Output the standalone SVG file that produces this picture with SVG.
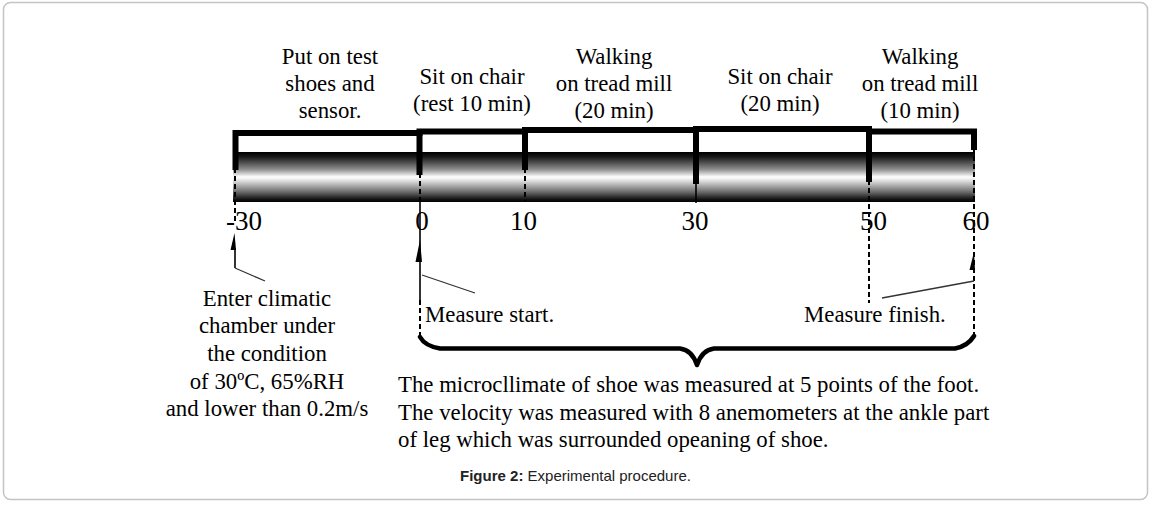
<svg xmlns="http://www.w3.org/2000/svg" width="1150" height="505" viewBox="0 0 1150 505">
<defs>
<linearGradient id="tube" x1="0" y1="0" x2="0" y2="1">
<stop offset="0" stop-color="#000"/>
<stop offset="0.1" stop-color="#1a1a1a"/>
<stop offset="0.35" stop-color="#909090"/>
<stop offset="0.5" stop-color="#ffffff"/>
<stop offset="0.56" stop-color="#e6e6e6"/>
<stop offset="0.8" stop-color="#6a6a6a"/>
<stop offset="0.94" stop-color="#161616"/>
<stop offset="1" stop-color="#000"/>
</linearGradient>
</defs>
<style>
.t{font-family:"Liberation Serif","Times New Roman",serif;font-size:22.8px;fill:#000}
.m{text-anchor:middle}
.ax{font-family:"Liberation Serif","Times New Roman",serif;font-size:27px;fill:#000;text-anchor:middle}
.cap{font-family:"Liberation Sans",Arial,sans-serif;font-size:15px;fill:#222;text-anchor:middle}
.thick{stroke:#000;stroke-width:6;fill:none;stroke-linecap:square}
.dash{stroke:#000;stroke-width:2;fill:none;stroke-dasharray:5 3}
.thin{stroke:#000;stroke-width:1.6;fill:none}
.lead{stroke:#333;stroke-width:1.3;fill:none}
</style>
<rect x="3.5" y="2.5" width="1144" height="497" rx="7" fill="#fff" stroke="#c4c4c4" stroke-width="1.5"/>

<g id="timeline">
<rect x="233" y="152" width="742" height="50" fill="url(#tube)"/>
</g>

<g id="bracket">
<path class="thick" d="M235.5,167 V133 H419.5"/>
<path class="thick" d="M419.5,172 V131.5 H525"/>
<path class="thick" d="M525,167 V130 H696"/>
<path class="thick" d="M696,181 V129 H869"/>
<path class="thick" d="M869,179 V131.5 H974 V147"/>
</g>

<g id="phase-labels">
<text class="t m" x="330" y="64">Put on test</text>
<text class="t m" x="330" y="91">shoes and</text>
<text class="t m" x="330" y="118">sensor.</text>
<text class="t m" x="472" y="84">Sit on chair</text>
<text class="t m" x="472" y="111">(rest 10 min)</text>
<text class="t m" x="614" y="64">Walking</text>
<text class="t m" x="614" y="91">on tread mill</text>
<text class="t m" x="614" y="118">(20 min)</text>
<text class="t m" x="780" y="84">Sit on chair</text>
<text class="t m" x="780" y="111">(20 min)</text>
<text class="t m" x="920" y="64">Walking</text>
<text class="t m" x="920" y="91">on tread mill</text>
<text class="t m" x="920" y="118">(10 min)</text>
</g>

<g id="axis-labels">
<text class="ax" x="244" y="230">-30</text>
<text class="ax" x="422" y="230">0</text>
<text class="ax" x="523.5" y="230">10</text>
<text class="ax" x="695" y="230">30</text>
<text class="ax" x="873.5" y="230">50</text>
<text class="ax" x="976" y="230">60</text>
</g>

<g id="connectors">
<line class="dash" x1="235" y1="168" x2="235" y2="224"/>
<line class="thin" x1="235" y1="248" x2="235" y2="268"/>
<polygon points="234.5,233 230.5,250 236,250" fill="#000"/>
<line class="lead" x1="235" y1="268" x2="265" y2="281"/>

<line class="dash" x1="420" y1="173" x2="420" y2="202"/>
<line class="thin" x1="420" y1="202" x2="420" y2="300"/>
<polygon points="420,240 415.5,262 422,262" fill="#000"/>
<line class="lead" x1="422" y1="275" x2="475" y2="293"/>
<line class="dash" x1="420" y1="300" x2="420" y2="337"/>

<line class="dash" x1="525" y1="168" x2="525" y2="202"/>
<line class="thin" x1="696" y1="181" x2="696" y2="203"/>
<line class="dash" x1="869" y1="180" x2="869" y2="303"/>

<line class="dash" x1="974" y1="148" x2="974" y2="335"/>
<polygon points="974,252 969.5,270 975,270" fill="#000"/>
<line class="lead" x1="974" y1="281" x2="882" y2="298"/>

<path d="M420,337 Q425,346 440,348.5 L680,348.5 Q692,350 697,365 Q702,350 714,348.5 L955,348.5 Q968,346 974,336" fill="none" stroke="#000" stroke-width="4.5" stroke-linecap="round" stroke-linejoin="round"/>
</g>

<g id="enter-note">
<text class="t m" x="267" y="306">Enter climatic</text>
<text class="t m" x="267" y="333">chamber under</text>
<text class="t m" x="267" y="361">the condition</text>
<text class="t m" x="267" y="389">of 30ºC, 65%RH</text>
<text class="t m" x="267" y="416">and lower than 0.2m/s</text>
</g>

<g id="measure-start">
<text class="t" x="425" y="322">Measure start.</text>
</g>
<g id="measure-finish">
<text class="t" x="804" y="322">Measure finish.</text>
</g>

<g id="description">
<text class="t" x="398" y="392">The microcllimate of shoe was measured at 5 points of the foot.</text>
<text class="t" x="398" y="419.5">The velocity was measured with 8 anemometers at the ankle part</text>
<text class="t" x="398" y="447">of leg which was surrounded opeaning of shoe.</text>
</g>

<g id="caption">
<text class="cap" x="575.5" y="481"><tspan font-weight="bold">Figure 2:</tspan> Experimental procedure.</text>
</g>
</svg>
